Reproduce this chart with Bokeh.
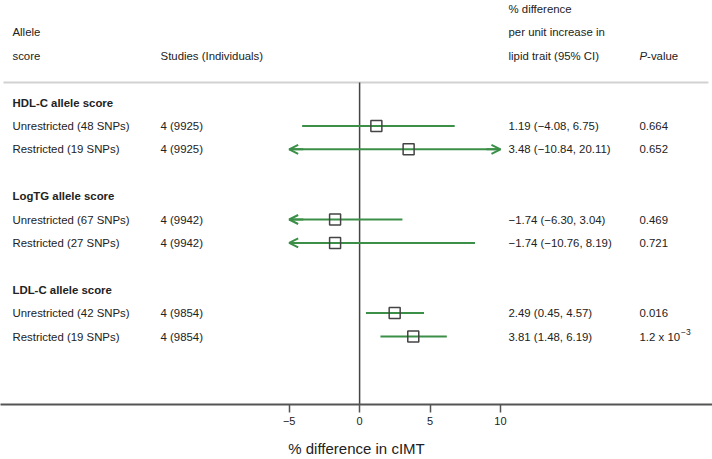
from bokeh.plotting import figure
from bokeh.models import Range1d, LinearAxis, FixedTicker, ColumnDataSource, Arrow, OpenHead
from bokeh.core.properties import value
from bokeh.embed import file_html
from bokeh.resources import INLINE

# ---------------- data ----------------
groups = ["HDL-C allele score", "LogTG allele score", "LDL-C allele score"]
scores = ["Unrestricted (48 SNPs)", "Restricted (19 SNPs)",
          "Unrestricted (67 SNPs)", "Restricted (27 SNPs)",
          "Unrestricted (42 SNPs)", "Restricted (19 SNPs)"]
studies = ["4 (9925)", "4 (9925)", "4 (9942)", "4 (9942)", "4 (9854)", "4 (9854)"]
estimate = [1.19, 3.48, -1.74, -1.74, 2.49, 3.81]
ci_low = [-4.08, -10.84, -6.30, -10.76, 0.45, 1.48]
ci_high = [6.75, 20.11, 3.04, 8.19, 4.57, 6.19]
p_values = ["0.664", "0.652", "0.469", "0.721", "0.016", "1.2 x 10"]
p_exponent = ["", "", "", "", "", "\u22123"]
tick_values = [-5, 0, 5, 10]
tick_labels = ["\u22125", "0", "5", "10"]
plot_min, plot_max = -5, 10

FONT = value("Liberation Sans")
FS = value("11.4px")
TXT = "#222222"
GREEN = "#3b8f47"
DARK = "#444444"

p = figure(width=712, height=459, output_backend="svg", toolbar_location=None,
           x_range=Range1d(-25.49, 25.05), y_range=Range1d(12.906, -4.36),
           x_axis_location=None, y_axis_location=None,
           min_border=0, min_border_bottom=55, outline_line_color=None)
p.grid.grid_line_color = None
p.background_fill_color = "white"
p.border_fill_color = "white"

ax = LinearAxis(ticker=FixedTicker(ticks=tick_values),
                major_label_overrides={v: l for v, l in zip(tick_values, tick_labels)},
                axis_label="% difference in cIMT",
                axis_line_color="#555555", axis_line_width=2,
                major_tick_line_color="#555555", major_tick_line_width=1.5,
                major_tick_in=0, major_tick_out=8,
                minor_tick_line_color=None,
                major_label_text_font="Liberation Sans", major_label_text_font_size="11px",
                major_label_text_color=TXT,
                axis_label_text_font="Liberation Sans", axis_label_text_font_size="15px",
                axis_label_text_font_style="normal", axis_label_text_color=TXT,
                major_label_standoff=4, axis_label_standoff=12)
p.add_layout(ax, "below")

# column positions (data units on x)
label_x, studies_x, ci_x, p_x = -24.64, -14.13, 10.57, 19.87

# header
p.text(x=[label_x, label_x], y=[-3, -2], text=["Allele", "score"],
       text_font=FONT, text_font_size=FS, text_color=TXT, text_baseline="middle")
p.text(x=[studies_x], y=[-2], text=["Studies (Individuals)"],
       text_font=FONT, text_font_size=FS, text_color=TXT, text_baseline="middle")
p.text(x=[ci_x] * 3, y=[-4, -3, -2],
       text=["% difference", "per unit increase in", "lipid trait (95% CI)"],
       text_font=FONT, text_font_size=FS, text_color=TXT, text_baseline="middle")
p.text(x=[p_x], y=[-2], text=["P"], text_font=FONT, text_font_size=FS,
       text_font_style="italic", text_color=TXT, text_baseline="middle")
p.text(x=[p_x], y=[-2], text=["-value"], x_offset=7.6, text_font=FONT, text_font_size=FS,
       text_color=TXT, text_baseline="middle")

# separator and zero line
p.segment(x0=[-25.28], y0=[-0.86], x1=[24.76], y1=[-0.86], line_color="#d2d2d2", line_width=2)
p.segment(x0=[0], y0=[-0.86], x1=[0], y1=[12.906], line_color=DARK, line_width=1.5)

# rows
group_y = [4 * g for g in range(len(groups))]
row_y = [4 * (i // 2) + 1 + i % 2 for i in range(len(scores))]

p.text(x=[label_x] * len(groups), y=group_y, text=groups, text_font=FONT, text_font_size=FS,
       text_font_style="bold", text_color=TXT, text_baseline="middle")
p.text(x=[label_x] * len(scores), y=row_y, text=scores, text_font=FONT, text_font_size=FS,
       text_color=TXT, text_baseline="middle")
p.text(x=[studies_x] * len(scores), y=row_y, text=studies, text_font=FONT, text_font_size=FS,
       text_color=TXT, text_baseline="middle")

ci_text = [f"{e:.2f} ({l:.2f}, {h:.2f})".replace("-", "\u2212")
           for e, l, h in zip(estimate, ci_low, ci_high)]
p.text(x=[ci_x] * len(scores), y=row_y, text=ci_text, text_font=FONT, text_font_size=FS,
       text_color=TXT, text_baseline="middle")
p.text(x=[p_x] * len(scores), y=row_y, text=p_values, text_font=FONT, text_font_size=FS,
       text_color=TXT, text_baseline="middle")
p.text(x=[p_x] * len(scores), y=row_y, text=p_exponent, x_offset=41.5, y_offset=-5,
       text_font=FONT, text_font_size=value("8.5px"), text_color=TXT, text_baseline="middle")

# CI lines
x0 = [max(l, plot_min) for l in ci_low]
x1 = [min(h, plot_max) for h in ci_high]
p.segment(x0=x0, y0=row_y, x1=x1, y1=row_y, line_color=GREEN, line_width=2)

# arrows for truncated intervals
ax_s, ax_e, ay = [], [], []
for l, h, y in zip(ci_low, ci_high, row_y):
    if l < plot_min:
        ax_s.append(plot_min + 1); ax_e.append(plot_min); ay.append(y)
    if h > plot_max:
        ax_s.append(plot_max - 1); ax_e.append(plot_max); ay.append(y)
asrc = ColumnDataSource(dict(xs=ax_s, xe=ax_e, y=ay))
p.add_layout(Arrow(end=OpenHead(size=9, line_color=GREEN, line_width=2),
                   x_start="xs", y_start="y", x_end="xe", y_end="y",
                   line_color=GREEN, line_width=2, source=asrc))

# point estimates
p.scatter(x=estimate, y=row_y, marker="square", size=11, fill_alpha=0,
          line_color=DARK, line_width=1.5)

open("out.html", "w").write(file_html(p, INLINE))
